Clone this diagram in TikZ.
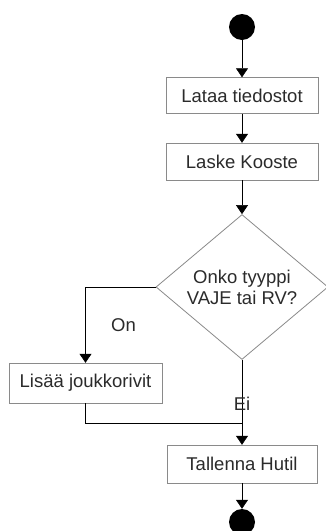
\documentclass[tikz,border=0pt]{standalone}
\usepackage{fontspec}
\setmainfont{Liberation Sans}
\usetikzlibrary{arrows.meta,positioning,shapes.geometric}
\definecolor{edge}{HTML}{8A8A8A}
\definecolor{ink}{HTML}{2B2B2B}

\begin{document}
\begin{tikzpicture}[
  x=1pt,y=-1pt,
  every node/.style={font=\fontsize{18.5}{21}\selectfont,text=ink},
  box/.style={draw=edge,fill=white,minimum width=152pt,minimum height=36pt,inner sep=2pt},
  choice/.style={draw=edge,thick,diamond,fill=white,align=center,
                 minimum width=172pt,minimum height=144pt,inner sep=0pt},
  dot/.style={circle,fill=black,minimum size=26pt,inner sep=0pt},
  arr/.style={-{Triangle[width=12pt,length=9pt]},semithick,color=black}
]
\useasboundingbox (0,0) rectangle (325,531);
\node[dot] (start) at (242,27) {};
\node[box] (lataa) at (242,95.5) {Lataa tiedostot};
\node[box,minimum height=37pt] (laske) at (242,161.5) {Laske Kooste};
\node[choice] (tyyppi) at (242,287) {Onko tyyppi\\VAJE tai RV?};
\node[box,minimum width=153pt,minimum height=40pt] (joukko) at (85.5,383) {Lisää joukkorivit};
\node[box,minimum width=150pt,minimum height=38pt] (hutil) at (242,464) {Tallenna Hutil};
\node[dot] (stop) at (242,522) {};
\coordinate (merge) at (242,423);
\draw[arr] (start)--(lataa);
\draw[arr] (lataa)--(laske);
\draw[arr] (laske)--(tyyppi);
\draw[arr] (tyyppi.west) -| node[pos=0.75,right=22pt] {On} (joukko);
\draw[semithick] (joukko) |- (merge);
\draw[arr] (tyyppi.south) -- node[pos=0.52] {Ei} (hutil);
\draw[arr] (hutil)--(stop);
\end{tikzpicture}
\end{document}
